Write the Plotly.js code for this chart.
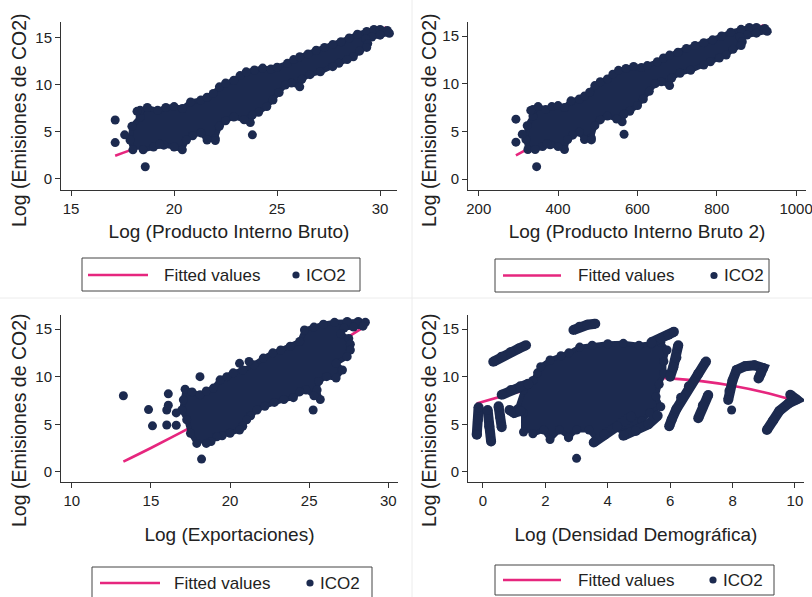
<!DOCTYPE html>
<html>
<head>
<meta charset="utf-8">
<script src="https://cdn.plot.ly/plotly-3.0.1.min.js"></script>
<style>html,body{margin:0;padding:0;background:#fff;}#chart{width:812px;height:597px;}</style>
</head>
<body>
<div id="chart"></div>
<script>
// ---------- Panel 1: Log (Producto Interno Bruto) ----------
const p1CloudX = [18.0,17.86,17.95,18.35,18.35,18.7,19.2,19.6,20.0,20.4,20.8,21.3,21.6,21.9,22.2,22.5,22.9,23.2,23.5,23.9,24.3,24.7,25.0,25.5,25.8,26.1,26.5,26.9,27.3,27.7,28.1,28.5,28.9,29.35,29.7,30.0,30.35,30.45,30.0,29.6,29.3,29.4,29.35,29.0,28.7,28.4,28.0,27.7,27.1,26.6,26.2,26.1,25.7,25.4,25.1,24.8,24.5,24.1,23.8,23.7,23.4,22.9,22.5,22.2,22.0,21.6,21.3,20.9,20.6,20.4,20.0,19.5,19.0,18.5];
const p1CloudY = [3.1,4.15,5.6,6.6,7.3,7.6,7.3,7.6,7.7,7.5,8.2,8.4,8.7,9.1,9.8,10.2,10.5,11.0,11.4,11.6,11.8,11.7,11.9,12.3,12.7,13.0,13.3,13.7,14.0,14.3,14.6,15.0,15.4,15.7,15.9,15.9,15.8,15.5,15.3,15.1,14.9,14.4,14.0,13.6,13.0,12.7,12.3,11.95,11.4,11.1,10.6,9.8,10.2,10.0,9.2,8.4,7.7,7.1,6.8,6.0,6.3,6.6,6.2,5.6,4.3,4.15,4.9,4.6,4.15,3.1,3.4,3.6,3.4,3.1];
const p1PointsX = [17.14,17.14,17.6,18.2,18.6,23.8,19.3,22.0];
const p1PointsY = [6.28,3.87,4.7,7.2,1.3,4.7,3.7,4.1];
const p1FitX = [17.14,18.5,20,22,24,26,28,29.35,30.3];
const p1FitY = [2.48,3.58,4.87,6.74,8.77,10.96,13.31,14.99,16.15];

// ---------- Panel 2: Log (Producto Interno Bruto 2) ----------
const p2CloudX = [324.0,319.0,322.2,336.7,336.7,349.7,368.6,384.2,400.0,416.2,432.6,453.7,466.6,479.6,492.8,506.3,524.4,538.2,552.3,571.2,590.5,610.1,625.0,650.3,665.6,681.2,702.3,723.6,745.3,767.3,789.6,812.3,835.2,861.4,882.1,900.0,921.1,927.2,900.0,876.2,858.5,864.4,861.4,841.0,823.7,806.6,784.0,767.3,734.4,707.6,686.4,681.2,660.5,645.2,630.0,615.0,600.3,580.8,566.4,561.7,547.6,524.4,506.3,492.8,484.0,466.6,453.7,436.8,424.4,416.2,400.0,380.3,361.0,342.3];
const p2CloudY = [3.1,4.15,5.6,6.6,7.3,7.6,7.3,7.6,7.7,7.5,8.2,8.4,8.7,9.1,9.8,10.2,10.5,11.0,11.4,11.6,11.8,11.7,11.9,12.3,12.7,13.0,13.3,13.7,14.0,14.3,14.6,15.0,15.4,15.7,15.9,15.9,15.8,15.5,15.3,15.1,14.9,14.4,14.0,13.6,13.0,12.7,12.3,11.95,11.4,11.1,10.6,9.8,10.2,10.0,9.2,8.4,7.7,7.1,6.8,6.0,6.3,6.6,6.2,5.6,4.3,4.15,4.9,4.6,4.15,3.1,3.4,3.6,3.4,3.1];
const p2PointsX = [293.8,293.8,309.8,331.2,346.0,566.4,372.5,484.0];
const p2PointsY = [6.28,3.87,4.7,7.2,1.3,4.7,3.7,4.1];
const p2FitX = [293.8,342.3,400,484,576,676,784,861.4,918.1];
const p2FitY = [2.48,3.58,4.87,6.74,8.77,10.96,13.31,14.99,16.15];

// ---------- Panel 3: Log (Exportaciones) ----------
const p3CloudX = [17.9,17.5,17.26,16.95,17.05,17.16,17.6,18.1,18.5,18.95,19.37,19.8,20.2,20.8,21.5,22.1,22.7,23.2,23.8,24.4,24.7,25.3,25.9,26.6,27.4,28.1,28.55,28.4,27.8,27.2,27.0,27.5,27.6,27.6,27.4,26.7,27.1,26.7,26.1,25.6,25.5,25.7,25.3,24.8,24.4,24.0,23.4,22.8,22.2,21.7,21.3,21.05,20.8,20.6,20.0,19.5,19.16,18.8,18.5];
const p3CloudY = [3.0,4.07,5.47,6.5,7.57,8.69,8.4,8.1,8.5,8.8,9.67,10.0,10.4,10.7,11.25,11.95,12.5,12.8,13.2,13.7,14.9,15.2,15.5,15.7,15.8,15.8,15.7,15.3,15.2,15.1,14.5,14.0,13.4,12.8,12.1,11.4,10.7,9.85,10.0,9.5,8.6,7.6,8.0,8.6,8.4,7.8,7.6,7.3,6.9,6.5,5.9,5.47,4.8,4.4,4.07,3.8,3.7,3.2,3.0];
const p3PointsX = [13.26,14.85,15.1,16.0,16.0,16.1,16.1,16.6,16.6,18.1,18.2,20.6,21.2,25.25];
const p3PointsY = [8.0,6.55,4.84,4.93,6.5,8.2,7.0,6.2,4.9,10.0,1.35,11.4,11.6,6.5];
const p3FitX = [13.26,15,17,19,21,23,25,27,28.6];
const p3FitY = [1.09,2.52,4.23,6.0,7.83,9.72,11.67,13.69,15.35];

// ---------- Panel 4: Log (Densidad Demográfica) ----------
const p4CloudX = [1.3,1.3,1.1,1.3,1.6,1.75,1.85,2.15,2.5,2.75,3.1,3.5,4.0,4.5,5.0,5.4,5.7,5.9,5.8,5.8,5.65,5.55,5.7,5.35,5.1,4.9,4.6,4.2,3.65,3.4,3.0,2.75,2.45,2.15,1.95,1.6];
const p4CloudY = [4.2,6.2,6.6,8.6,9.6,10.4,11.05,11.75,12.2,12.5,13.1,13.3,13.45,13.5,13.3,13.45,13.6,12.8,11.6,10.35,9.2,7.9,6.85,6.2,5.4,4.4,4.1,4.6,3.4,4.4,4.4,3.7,4.4,3.4,4.4,4.0];
const p4StreaksX = [
  [0.6,0.9,1.2,1.45],
  [0.33,0.6,0.9,1.15,1.38],
  [2.9,3.1,3.35,3.6],
  [5.4,5.7,5.95,6.12],
  [6.26,6.2,6.1,6.0],
  [7.15,6.9,6.6,6.35,6.2,6.05,5.97],
  [7.22,7.05,6.9],
  [7.86,7.9,8.0,8.13,8.4,8.7,8.98,8.9,8.83],
  [9.85,10.05,9.8,9.5,9.3,9.1],
  [-0.14,-0.16,-0.2],
  [0.15,0.2,0.26],
  [0.5,0.55,0.6],
  [0.85,1.0,1.2],
  [3.55,3.9,4.3,4.75],
  [4.5,4.9,5.3,5.6]
];
const p4StreaksY = [
  [8.1,8.6,9.0,9.25],
  [11.57,12.1,12.6,12.95,13.3],
  [14.9,15.25,15.45,15.55],
  [13.6,14.0,14.4,14.7],
  [13.3,12.0,11.0,10.0],
  [11.6,10.3,9.0,7.8,6.6,5.5,4.8],
  [8.08,7.0,5.63],
  [7.55,8.5,9.6,10.7,11.1,11.2,10.9,10.3,9.8],
  [8.1,7.6,7.2,6.4,5.4,4.4],
  [6.8,5.5,3.9],
  [6.5,4.8,3.2],
  [6.9,5.8,4.7],
  [6.5,6.2,6.4],
  [3.1,3.9,4.8,5.8],
  [3.8,4.3,5.0,5.9]
];
const p4PointsX = [3.0,7.97,0.26,2.74,5.97,-0.18];
const p4PointsY = [1.43,6.5,3.18,3.6,4.79,3.9];
const p4FitX = [-0.2,1,2,3,4,5,6,7,8,9,9.9];
const p4FitY = [7.18,8.28,8.99,9.49,9.80,9.91,9.82,9.53,9.04,8.36,7.57];

// ---------- Ticks and labels ----------
const yTicks = [0,5,10,15];
const p1XTicks = [15,20,25,30];
const p2XTicks = [200,400,600,800,1000];
const p3XTicks = [10,15,20,25,30];
const p4XTicks = [0,2,4,6,8,10];
const yTitle = 'Log (Emisiones de CO2)';
const xTitles = ['Log (Producto Interno Bruto)','Log (Producto Interno Bruto 2)','Log (Exportaciones)','Log (Densidad Demográfica)'];
const fitName = 'Fitted values';
const pointName = 'ICO2';

const NAVY = '#1c2a4f';
const PINK = '#e6267e';
const TXT = '#222222';
const FONT = 'Liberation Sans, Arial, sans-serif';
const W = 812, H = 597;

function fitTrace(xs, ys, n) {
  return {x:xs, y:ys, xaxis:'x'+n, yaxis:'y'+n, type:'scatter', mode:'lines', name:fitName,
    line:{color:PINK, width:2.6, shape:'spline'}, showlegend:false, hoverinfo:'skip'};
}
function cloudTrace(xs, ys, n) {
  return {x:xs, y:ys, xaxis:'x'+n, yaxis:'y'+n, type:'scatter', mode:'lines+markers', fill:'toself', name:pointName,
    fillcolor:NAVY, line:{color:NAVY, width:5}, marker:{color:NAVY, size:9}, showlegend:false, hoverinfo:'skip'};
}
function streakTrace(xs, ys, n) {
  return {x:xs, y:ys, xaxis:'x'+n, yaxis:'y'+n, type:'scatter', mode:'lines+markers', name:pointName,
    line:{color:NAVY, width:10}, marker:{color:NAVY, size:10}, showlegend:false, hoverinfo:'skip'};
}
function pointTrace(xs, ys, n) {
  return {x:xs, y:ys, xaxis:'x'+n, yaxis:'y'+n, type:'scatter', mode:'markers', name:pointName,
    marker:{color:NAVY, size:9}, showlegend:false, hoverinfo:'skip'};
}

const traces = [
  fitTrace(p1FitX, p1FitY, ''), cloudTrace(p1CloudX, p1CloudY, ''), pointTrace(p1PointsX, p1PointsY, ''),
  fitTrace(p2FitX, p2FitY, '2'), cloudTrace(p2CloudX, p2CloudY, '2'), pointTrace(p2PointsX, p2PointsY, '2'),
  fitTrace(p3FitX, p3FitY, '3'), cloudTrace(p3CloudX, p3CloudY, '3'), pointTrace(p3PointsX, p3PointsY, '3'),
  fitTrace(p4FitX, p4FitY, '4'), cloudTrace(p4CloudX, p4CloudY, '4')
];
for (let i = 0; i < p4StreaksX.length; i++) traces.push(streakTrace(p4StreaksX[i], p4StreaksY[i], '4'));
traces.push(pointTrace(p4PointsX, p4PointsY, '4'));

function xAxis(dom, rng, ticks, title, anchor, standoff) {
  return {domain:dom, range:rng, tickvals:ticks, ticktext:ticks.map(String), anchor:anchor,
    showline:true, linecolor:'#333', linewidth:1, ticks:'outside', ticklen:5, tickcolor:'#333',
    ticklabeloverflow:'allow',
    showgrid:false, zeroline:false, fixedrange:true, tickfont:{family:FONT, size:15, color:TXT},
    title:{text:title, font:{family:FONT, size:19, color:TXT}, standoff:standoff}};
}
function yAxis(dom, rng, anchor) {
  return {domain:dom, range:rng, tickvals:yTicks, ticktext:yTicks.map(String), anchor:anchor,
    showline:true, linecolor:'#333', linewidth:1, ticks:'outside', ticklen:5, tickcolor:'#333',
    showgrid:false, zeroline:false, fixedrange:true, tickfont:{family:FONT, size:15, color:TXT}};
}

// pixel helpers for legend boxes and y titles
const px = v => v / W;
const py = v => 1 - v / H;

const shapes = [
  {type:'line', xref:'paper', yref:'paper', x0:px(412), x1:px(412), y0:0, y1:1, line:{color:'#ececec', width:1}, layer:'below'},
  {type:'line', xref:'paper', yref:'paper', x0:0, x1:1, y0:py(298), y1:py(298), line:{color:'#ececec', width:1}, layer:'below'}
];
const annotations = [];

// legend geometry per panel: box, line sample, text positions (pixels)
const legendBoxes = [
  {x0:82, x1:360, y0:258, y1:291, cy:275, l0:88, l1:148, t1:162, m:296, t2:304},
  {x0:495, x1:769, y0:259, y1:292, cy:275.5, l0:503, l1:561, t1:576, m:714, t2:722},
  {x0:92, x1:372, y0:567, y1:601, cy:583, l0:100, l1:160, t1:172, m:310, t2:318},
  {x0:495, x1:774, y0:565, y1:595, cy:580, l0:503, l1:561, t1:576, m:713, t2:721}
];
legendBoxes.forEach(b => {
  shapes.push({type:'rect', xref:'paper', yref:'paper', x0:px(b.x0), x1:px(b.x1), y0:py(b.y0), y1:py(b.y1),
    line:{color:'#444', width:1}, fillcolor:'#ffffff'});
  shapes.push({type:'line', xref:'paper', yref:'paper', x0:px(b.l0), x1:px(b.l1), y0:py(b.cy), y1:py(b.cy),
    line:{color:PINK, width:2.6}});
  shapes.push({type:'circle', xref:'paper', yref:'paper', x0:px(b.m-3.6), x1:px(b.m+3.6), y0:py(b.cy-3.6), y1:py(b.cy+3.6),
    line:{color:NAVY, width:0}, fillcolor:NAVY});
  annotations.push({xref:'paper', yref:'paper', x:px(b.t1), y:py(b.cy), xanchor:'left', yanchor:'middle', showarrow:false,
    text:fitName, font:{family:FONT, size:17, color:TXT}});
  annotations.push({xref:'paper', yref:'paper', x:px(b.t2), y:py(b.cy), xanchor:'left', yanchor:'middle', showarrow:false,
    text:pointName, font:{family:FONT, size:17, color:TXT}});
});

// y axis titles (rotated)
[[19, 120], [429, 120], [19, 420], [429, 420]].forEach(p => {
  annotations.push({xref:'paper', yref:'paper', x:px(p[0]), y:py(p[1]), xanchor:'center', yanchor:'middle',
    showarrow:false, textangle:-90, text:yTitle, font:{family:FONT, size:19.5, color:TXT}});
});

const topY = [0.68174, 0.96315];
const botY = [0.19263, 0.47236];

const layout = {
  width:W, height:H, margin:{l:0, r:0, t:0, b:0},
  paper_bgcolor:'#ffffff', plot_bgcolor:'#ffffff',
  font:{family:FONT, color:TXT},
  showlegend:false,
  xaxis: xAxis([0.07512,0.48892],[14.51,30.82],p1XTicks,xTitles[0],'y',8),
  yaxis: yAxis(topY,[-1.17,16.70],'x'),
  xaxis2: xAxis([0.57635,0.99261],[173,1025],p2XTicks,xTitles[1],'y2',8),
  yaxis2: yAxis(topY,[-1.15,16.47],'x2'),
  xaxis3: xAxis([0.07512,0.49015],[9.32,30.61],p3XTicks,xTitles[2],'y3',19),
  yaxis3: yAxis(botY,[-1.05,16.47],'x3'),
  xaxis4: xAxis([0.57635,0.99015],[-0.48,10.29],p4XTicks,xTitles[3],'y4',19),
  yaxis4: yAxis(botY,[-1.05,16.47],'x4'),
  shapes: shapes,
  annotations: annotations
};

Plotly.newPlot('chart', traces, layout, {displayModeBar:false, staticPlot:true});
</script>
</body>
</html>
